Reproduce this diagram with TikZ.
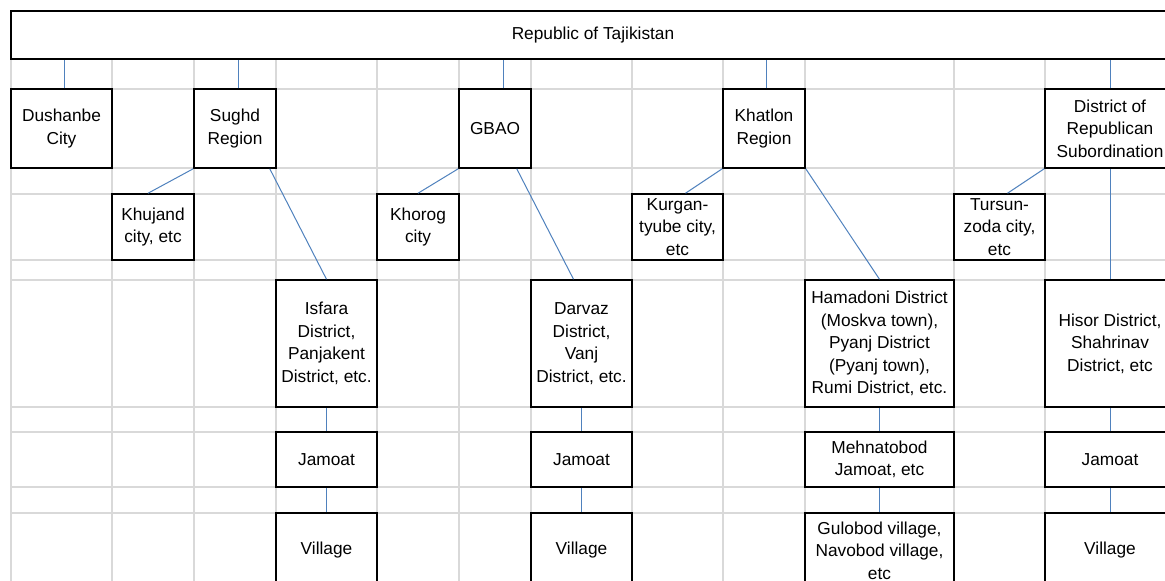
\documentclass[tikz,border=0pt]{standalone}
\usepackage{fontspec}
\setmainfont{Liberation Sans}
\definecolor{linkblue}{HTML}{4F81BD}
\definecolor{cellgrey}{HTML}{D9D9D9}
\tikzset{
  org/.style={x=1pt,y=-1pt,
    cell/.style={draw=black,line width=1.5pt,fill=white,inner sep=0pt,align=center,
      font=\fontsize{17.3}{22.5}\selectfont},
    rowA/.style={cell,minimum height=79pt},
    rowB/.style={cell,minimum height=66pt},
    rowC/.style={cell,minimum height=127pt},
    rowD/.style={cell,minimum height=55pt},
    rowE/.style={cell,minimum height=75pt},
    link/.style={draw=linkblue,line width=1pt},
    gridline/.style={draw=cellgrey,line width=1.3pt}},
}

\begin{document}
\begin{tikzpicture}[org]
  \useasboundingbox (0,0) rectangle (1165,581);
  % sheet grid
  \foreach \x in {11,112,194,276,377,459,531,632,723,805,954,1045}
    \draw[gridline] (\x,59) -- (\x,590);
  \foreach \y in {89,168,194,260,280,407,432,487,513}
    \draw[gridline] (11,\y) -- (1175,\y);

  \node[cell,minimum width=1164pt,minimum height=48pt] (rep) at (593,35) {Republic of Tajikistan};
  % first level
  \node[rowA,minimum width=101pt] (dushanbe) at (61.5,128.5) {Dushanbe\\City};
  \node[rowA,minimum width=82pt] (sughd) at (235,128.5) {Sughd\\Region};
  \node[rowA,minimum width=72pt] (gbao) at (495,128.5) {GBAO};
  \node[rowA,minimum width=82pt] (khatlon) at (764,128.5) {Khatlon\\Region};
  \node[rowA,minimum width=130pt] (drs) at (1110,128.5) {District of\\Republican\\Subordination};
  % cities
  \node[rowB,minimum width=82pt] (khujand) at (153,227) {Khujand\\city, etc};
  \node[rowB,minimum width=82pt] (khorog) at (418,227) {Khorog\\city};
  \node[rowB,minimum width=91pt] (kurgan) at (677.5,227) {Kurgan-\\tyube city,\\etc};
  \node[rowB,minimum width=91pt] (tursun) at (999.5,227) {Tursun-\\zoda city,\\etc};
  % districts
  \node[rowC,minimum width=101pt] (isfara) at (326.5,343.5) {Isfara\\District,\\Panjakent\\District, etc.};
  \node[rowC,minimum width=101pt] (darvaz) at (581.5,343.5) {Darvaz\\District,\\Vanj\\District, etc.};
  \node[rowC,minimum width=149pt] (hamadoni) at (879.5,343.5) {Hamadoni District\\(Moskva town),\\Pyanj District\\(Pyanj town),\\Rumi District, etc.};
  \node[rowC,minimum width=130pt] (hisor) at (1110,343.5) {Hisor District,\\Shahrinav\\District, etc};
  % jamoats
  \node[rowD,minimum width=101pt] (jamS) at (326.5,459.5) {Jamoat};
  \node[rowD,minimum width=101pt] (jamG) at (581.5,459.5) {Jamoat};
  \node[rowD,minimum width=149pt] (jamK) at (879.5,459.5) {Mehnatobod\\Jamoat, etc};
  \node[rowD,minimum width=130pt] (jamD) at (1110,459.5) {Jamoat};
  % villages
  \node[rowE,minimum width=101pt] (vilS) at (326.5,550.5) {Village};
  \node[rowE,minimum width=101pt] (vilG) at (581.5,550.5) {Village};
  \node[rowE,minimum width=149pt] (vilK) at (879.5,550.5) {Gulobod village,\\Navobod village,\\etc};
  \node[rowE,minimum width=130pt] (vilD) at (1110,550.5) {Village};

  \draw[link] ([xshift=3pt]dushanbe.north) -- ([xshift=3pt]dushanbe.north |- rep.south);
  \draw[link] ([xshift=3pt]sughd.north) -- ([xshift=3pt]sughd.north |- rep.south);
  \draw[link] ([xshift=8pt]gbao.north) -- ([xshift=8pt]gbao.north |- rep.south);
  \draw[link] ([xshift=2pt]khatlon.north) -- ([xshift=2pt]khatlon.north |- rep.south);
  \draw[link] (drs.north) -- (drs.north |- rep.south);

  \draw[link] (sughd.south west) -- ([xshift=-5pt]khujand.north);
  \draw[link] ([xshift=-7pt]sughd.south east) -- (isfara.north);
  \draw[link] (gbao.south west) -- (khorog.north);
  \draw[link] ([xshift=-15pt]gbao.south east) -- ([xshift=-8pt]darvaz.north);
  \draw[link] (khatlon.south west) -- ([xshift=8pt]kurgan.north);
  \draw[link] (khatlon.south east) -- (hamadoni.north);
  \draw[link] (drs.south west) -- ([xshift=8pt]tursun.north);
  \draw[link] (drs.south) -- (hisor.north);

  \foreach \d/\j/\v in {isfara/jamS/vilS,darvaz/jamG/vilG,hamadoni/jamK/vilK,hisor/jamD/vilD}{
    \draw[link] (\d.south) -- (\j.north);
    \draw[link] (\j.south) -- (\v.north);
  }
\end{tikzpicture}
\end{document}
